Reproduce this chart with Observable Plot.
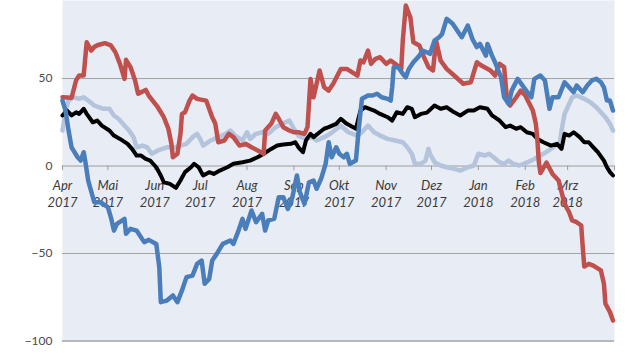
<!DOCTYPE html>
<html><head><meta charset="utf-8">
<script src="https://cdn.jsdelivr.net/npm/d3@7"></script>
<script src="https://cdn.jsdelivr.net/npm/@observablehq/plot@0.6"></script>
<style>body{margin:0;background:#fff}</style>
</head><body><div id="chart"></div>
<script>
// days counted from 1 Apr 2017
const monthStarts = ["2017-04-01","2017-05-01","2017-06-01","2017-07-01","2017-08-01","2017-09-01","2017-10-01","2017-11-01","2017-12-01","2018-01-01","2018-02-01","2018-03-01"];
const monthLabels = ["Apr\n2017","Mai\n2017","Jun\n2017","Jul\n2017","Aug\n2017","Sep\n2017","Okt\n2017","Nov\n2017","Dez\n2017","Jan\n2018","Feb\n2018","Mrz\n2018"];
const tickDates = ["2017-04-01","2017-05-01","2017-06-01","2017-07-01","2017-08-01","2017-09-01","2017-10-01","2017-11-01","2017-12-01","2018-01-01","2018-02-01","2018-03-01","2018-04-01"];
const yTicks = [50, 0, -50, -100];

const redDays = [0,6,9,11,14,16,19,21,23,28,32,35,38,41,42,45,48,50,55,57,63,67,70,72,73,76,78,79,81,84,86,89,95,99,101,103,107,110,113,117,121,125,130,133,134,138,141,143,146,150,153,156,160,162,164,166,170,173,176,179,184,188,195,197,199,202,204,207,210,214,217,220,224,225,227,230,232,236,239,242,245,247,250,254,259,265,270,274,277,283,286,289,292,294,296,300,303,306,311,313,314,315,316,320,324,328,332,335,337,340,343,344,345,348,351,356,358,359,362,364];
const redValues = [39.3,39,49,51.7,51.7,70.7,66,68,69,70.2,68.9,65,58.4,49.8,60.7,56.5,48.9,41.3,43.5,40.3,33.6,27.9,21.3,12.7,5,7,18.4,29.8,30.7,37.4,40.3,38.4,37.4,27.9,24.3,13.6,14.6,18.4,16.5,11.7,12.7,10.7,8.5,7,20.3,24.1,29.8,27,22.2,20.3,19.3,19.3,18.4,22.2,49.8,39.3,54.6,45,43.1,47,55.5,55.5,51.7,60.3,59.3,66,58.4,61.3,62.2,58.4,60.3,58.4,55.5,71.7,91.7,85,70.7,68.9,62.2,56.5,54.6,71.7,60.3,55.5,51.7,47,47.9,59.3,57.4,54.6,51.7,58.4,56.5,37.4,34.6,39.3,43.1,40.3,31.7,24.1,15,2,-4,2,-4.5,-8.3,-21.6,-26.4,-31.1,-32.1,-34,-46.4,-57.4,-55.9,-56.9,-59.7,-67.3,-78.7,-83.5,-88.3];

const blueDays = [0,2,4,6,10,12,14,15,17,21,25,30,32,34,36,41,42,45,49,54,57,62,64,65,69,73,76,79,82,86,89,92,94,97,99,102,106,111,113,116,119,121,125,128,132,134,136,140,143,146,149,152,155,157,160,163,166,168,171,174,176,178,181,183,186,188,190,194,196,198,202,205,208,211,215,217,218,219,222,225,227,229,232,236,238,241,243,246,249,251,254,258,261,264,268,271,274,276,280,281,284,286,290,292,295,297,301,305,310,312,316,319,322,324,328,332,335,338,340,344,347,350,353,356,358,360,362,364];
const blueValues = [37.4,31.7,20.3,10.7,5,3.1,7.9,3.1,-8.3,-20.7,-20.7,-23.5,-29.3,-36.9,-33,-30.2,-38.7,-35.9,-36.9,-43.5,-42.2,-44.5,-57.8,-77.8,-76.9,-74,-77.8,-71.1,-63.5,-62.6,-55.9,-54,-67.3,-64.5,-54,-50.2,-44.5,-42.6,-44.5,-37.8,-30.2,-35.9,-25.4,-32.1,-27.3,-36.9,-31.1,-30.2,-17.8,-17.8,-24.5,-17.8,-5.4,-15,-21.6,-9.3,-8.3,-13,-7.3,1.3,13.6,5,10.7,7,5,7,1.3,3.1,22.2,38.4,40.3,40.3,41.3,39.3,38.4,37.4,45,56.5,56.5,52.7,50.7,55.5,59.3,63.1,66,65,64.1,71.7,73.6,75.5,84.1,81.3,77.4,73.6,80.3,72.7,68,69.8,63.1,69.8,63.1,59.3,50.7,39.3,35.5,43.1,49.8,45,39.3,49.8,51.7,48.9,32.7,39.3,39.3,47.9,45,42.2,46,42.2,46,48.9,49.8,47.9,45,37.4,37.4,31.7];

const blackDays = [0,3,6,9,11,14,16,20,23,26,31,34,38,43,46,49,52,55,58,62,65,67,71,75,78,81,85,87,90,93,97,100,104,109,113,119,124,129,133,138,142,146,151,154,156,159,161,164,166,170,173,176,181,184,188,194,197,200,206,210,215,218,221,225,228,231,233,237,241,246,250,254,259,263,268,272,276,281,284,289,293,296,300,303,307,311,314,318,323,327,330,332,335,338,342,345,348,351,354,358,360,362,364];
const blackValues = [28.9,31.7,28.9,30.7,29.8,32.7,29.8,25,26,23.1,20.3,17.4,15.5,12.7,9.8,6,6,4.1,3.1,-0.7,-5.4,-9.3,-10.2,-12.5,-8.3,-3.5,-0.7,1.3,-0.7,-5.4,-3.5,-4.5,-2.6,-0.7,1.3,2.2,3.1,5,7,9.8,11.7,12.3,12.7,13.6,10.7,7.9,14.6,18.4,16.5,19.3,21.3,22.2,24.1,27,24.1,21.3,31.7,33.6,31.7,29.8,27.9,26,30.7,29.8,33.6,32.7,27.9,29.8,30.5,34.6,32.7,33.6,30.7,28.9,31.7,31.7,33.6,32.7,28.9,26,22.2,23.1,21.3,22.2,19.3,18.4,15.5,13.6,11.7,12.7,9.8,18.4,17.4,19.3,16.5,13.6,13.6,10.7,7.9,3.1,-0.7,-3.5,-5.4];

const lightDays = [0,2,4,7,11,14,17,21,24,27,31,34,37,41,44,47,49,53,56,59,63,66,69,74,78,82,86,89,91,93,98,103,108,111,114,119,122,124,128,132,136,141,145,150,153,156,161,165,168,173,177,184,189,195,198,202,206,210,215,220,225,228,231,233,237,240,242,243,246,250,254,259,263,268,272,275,279,282,285,289,292,295,298,302,305,310,314,318,323,326,329,330,332,334,337,340,345,349,353,356,359,362,364];
const lightValues = [20.3,31.7,37.4,39.3,38.4,39.3,37.4,34.6,33.6,32.7,32.7,28.9,27,23.1,20.3,16.5,10.7,11.7,10.7,7,8.9,9.8,10.7,10.7,11.7,12.7,16.5,18.4,15.5,11.7,14.6,16.5,18.4,20.3,17.4,14.6,19.3,15.5,18.4,19.3,18.4,22.2,24.1,26,21.3,17.4,15.5,16.5,14.6,16.5,18.4,23.1,19.3,17.4,19.3,23.1,19.3,17.4,15.5,14.6,13.6,10.7,7,1.3,1.3,3.1,9.8,7,2.2,0.3,-0.7,-1.6,-2.6,-0.7,0.3,7,6,7,5,2.2,1.3,3.1,1.3,0.3,1.3,3.1,5,7,9.8,11.7,13.6,20.3,29.8,33.6,39.3,40.3,38.4,36.5,33.6,30.7,27.9,24.1,20.3];

const dayToDate = d => new Date(Date.UTC(2017, 3, 1 + d));
const toRows = (days, values) => days.map((d, i) => ({date: dayToDate(d), value: values[i]}));
const red = toRows(redDays, redValues);
const blue = toRows(blueDays, blueValues);
const black = toRows(blackDays, blackValues);
const light = toRows(lightDays, lightValues);
const months = monthStarts.map((m, i) => ({date: new Date(m), label: monthLabels[i]}));
const ticks = tickDates.map(d => new Date(d));

const chart = Plot.plot({
  width: 640,
  height: 360,
  marginTop: 0,
  marginBottom: 19.5,
  marginLeft: 62,
  marginRight: 26,
  style: {fontFamily: "Lato, 'Liberation Sans', sans-serif", background: "#fff"},
  x: {type: "utc", domain: [new Date("2017-04-01"), new Date("2018-04-01")], axis: null},
  y: {domain: [-100, 94.6], axis: null},
  marks: [
    Plot.frame({fill: "#e8ecf4", stroke: null}),
    Plot.ruleY([50, -50], {stroke: "#a3a3a3", strokeWidth: 1}),
    Plot.ruleY([-100], {stroke: "#b8b8b8", strokeWidth: 2}),
    Plot.ruleY([0], {stroke: "#9c9c9c", strokeWidth: 1}),
    Plot.ruleX(ticks, {x: d => d, y1: 0, y2: -2.6, stroke: "#9c9c9c", strokeWidth: 1}),
    Plot.axisY(yTicks, {tickSize: 0, tickPadding: 10, fontSize: 12, color: "#4a4a4a", label: null}),
    Plot.text(months, {x: "date", y: 0, text: "label", lineAnchor: "top", dy: 12, lineHeight: 1.32, fontSize: 13, fontStyle: "italic", fill: "#3a3a3a"}),
    Plot.line(light, {x: "date", y: "value", stroke: "#b3c4dc", strokeWidth: 4.5, strokeLinejoin: "round"}),
    Plot.line(black, {x: "date", y: "value", stroke: "#000000", strokeWidth: 4, strokeLinejoin: "round"}),
    Plot.line(red, {x: "date", y: "value", stroke: "#c0504d", strokeWidth: 4.5, strokeLinejoin: "round"}),
    Plot.line(blue, {x: "date", y: "value", stroke: "#4a7ebb", strokeWidth: 4.5, strokeLinejoin: "round"})
  ]
});
document.getElementById("chart").appendChild(chart);
</script>
</body></html>
